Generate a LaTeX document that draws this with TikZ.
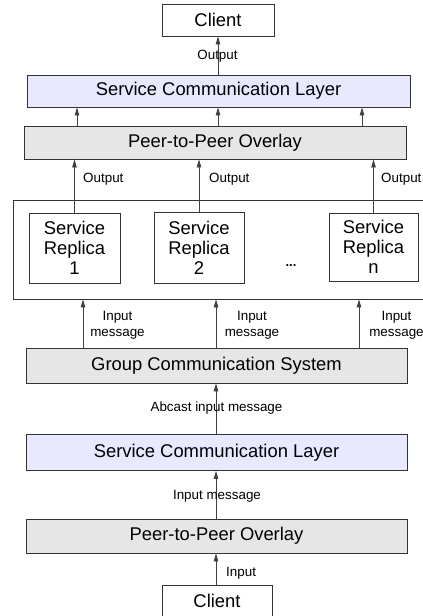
\documentclass[tikz,border=0pt]{standalone}
\usepackage{fontspec}
\setmainfont{Liberation Sans}
\usetikzlibrary{arrows.meta}
\definecolor{layerblue}{HTML}{E8E8FF}
\definecolor{layergray}{HTML}{E6E6E6}
\tikzset{
	box/.style={draw=black!80, line width=0.8pt, inner sep=0pt, font=\fontsize{18.4}{20}\selectfont, align=center},
	bluelayer/.style={box, fill=layerblue},
	graylayer/.style={box, fill=layergray},
	lbl/.style={inner sep=0pt, font=\fontsize{13.4}{16}\selectfont, align=center},
	arr/.style={draw=black!75, line width=0.8pt, -{Triangle[length=8pt,width=4.5pt]}},
}
\begin{document}
\begin{tikzpicture}[x=1pt,y=-1pt]
	\useasboundingbox (0,0) rectangle (423,616);
	% upper half: results going back to the client
	\node[box, minimum width=112pt, minimum height=32pt] (clienttop) at (218,20) {Client};
	\node[bluelayer, minimum width=383pt, minimum height=32pt] (scltop) at (218.5,91) {Service Communication Layer};
	\node[graylayer, minimum width=382pt, minimum height=33pt] (p2ptop) at (215,142.5) {Peer-to-Peer Overlay};
	% replicas
	\node[draw=black!80, line width=0.8pt, minimum width=416pt, minimum height=99pt, inner sep=0pt] (group) at (221,249.5) {};
	\node[box, minimum width=91pt, minimum height=70pt] (rep1) at (74.5,248) {Service\\Replica\\1};
	\node[box, minimum width=90pt, minimum height=71pt] (rep2) at (199,247.5) {Service\\Replica\\2};
	\node[box, minimum width=89pt, minimum height=68pt] (repn) at (373.5,247) {Service\\Replica\\n};
	\node[inner sep=0pt, font=\fontsize{13}{14}\selectfont\bfseries] (dots) at (291,266) {...};
	% lower half: requests coming from the client
	\node[graylayer, minimum width=381pt, minimum height=35pt] (gcs) at (216.5,365.5) {Group Communication System};
	\node[bluelayer, minimum width=381pt, minimum height=36pt] (sclbot) at (216.5,452.5) {Service Communication Layer};
	\node[graylayer, minimum width=381pt, minimum height=34pt] (p2pbot) at (216.5,536) {Peer-to-Peer Overlay};
	\node[box, minimum width=110pt, minimum height=32pt] (clientbot) at (217,601) {Client};

	\coordinate (c1) at (77,0);
	\coordinate (c2) at (218,0);
	\coordinate (c3) at (362,0);
	\coordinate (d1) at (83,0);
	\coordinate (d2) at (216,0);
	\coordinate (d3) at (359,0);

	\draw[arr] (scltop.north -| c2) -- (clienttop.south -| c2);
	\draw[arr] (p2ptop.north -| c1) -- (scltop.south -| c1);
	\draw[arr] (p2ptop.north -| c2) -- (scltop.south -| c2);
	\draw[arr] (p2ptop.north -| c3) -- (scltop.south -| c3);
	\draw[arr] (rep1.north) -- (rep1.north |- p2ptop.south);
	\draw[arr] (rep2.north) -- (rep2.north |- p2ptop.south);
	\draw[arr] (repn.north) -- (repn.north |- p2ptop.south);
	\draw[arr] (gcs.north -| d1) -- (group.south -| d1);
	\draw[arr] (gcs.north -| d2) -- (group.south -| d2);
	\draw[arr] (gcs.north -| d3) -- (group.south -| d3);
	\draw[arr] (sclbot.north -| d2) -- (gcs.south -| d2);
	\draw[arr] (p2pbot.north -| d2) -- (sclbot.south -| d2);
	\draw[arr] (clientbot.north -| d2) -- (p2pbot.south -| d2);

	\node[lbl] (outtop) at (217.5,56) {Output};
	\node[lbl, anchor=west] (out1) at (83,179) {Output};
	\node[lbl, anchor=west] (out2) at (209,179) {Output};
	\node[lbl, anchor=west] (out3) at (381,179) {Output};
	\node[lbl] (in1) at (117.5,325) {Input\\message};
	\node[lbl] (in2) at (252,325) {Input\\message};
	\node[lbl] (in3) at (396.5,325) {Input\\message};
	\node[lbl] (abcast) at (216.5,408) {Abcast input message};
	\node[lbl] (inmsg) at (217,496) {Input message};
	\node[lbl, anchor=west] (inbot) at (226,573) {Input};
\end{tikzpicture}
\end{document}
